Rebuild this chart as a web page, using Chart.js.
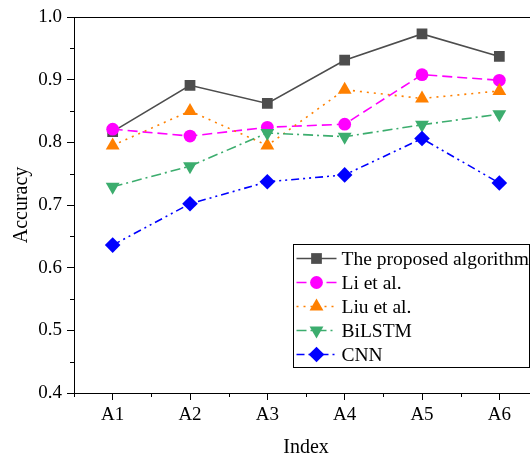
<!DOCTYPE html>
<html>
<head>
<meta charset="utf-8">
<script src="https://cdn.jsdelivr.net/npm/chart.js@4.4.0/dist/chart.umd.min.js"></script>
<style>
  html, body { margin: 0; padding: 0; background: #fff; overflow: hidden; }
  canvas { display: block; }
</style>
</head>
<body>
<canvas id="accuracy-chart"></canvas>
<script>
const categories = ["A1", "A2", "A3", "A4", "A5", "A6"];
const proposed = [0.817, 0.891, 0.862, 0.931, 0.973, 0.937];
const liEtAl = [0.821, 0.810, 0.824, 0.829, 0.908, 0.899];
const liuEtAl = [0.795, 0.850, 0.795, 0.884, 0.870, 0.882];
const biLSTM = [0.729, 0.762, 0.815, 0.809, 0.828, 0.845];
const cnn = [0.636, 0.702, 0.737, 0.748, 0.806, 0.735];
const seriesNames = ["The proposed algorithm", "Li et al.", "Liu et al.", "BiLSTM", "CNN"];
const yMin = 0.4;
const yMax = 1.0;

const serif = "'Liberation Serif', 'Times New Roman', serif";

const makeSet = (label, data, color, dash, style, radius, rot, order) => ({
  label: label,
  data: data,
  borderColor: color,
  backgroundColor: color,
  borderWidth: 1.6,
  borderDash: dash,
  pointStyle: style,
  pointRadius: radius,
  pointRotation: rot,
  pointBorderWidth: 0,
  pointBackgroundColor: color,
  tension: 0,
  order: order,
});

const datasets = [
  makeSet(seriesNames[0], proposed, "#4d4d4d", [], "rect", 7.6, 0, 4),
  makeSet(seriesNames[1], liEtAl, "#ff00ff", [10, 5], "circle", 6.4, 0, 3),
  makeSet(seriesNames[2], liuEtAl, "#ff8000", [2, 5], "triangle", 8, 0, 2),
  makeSet(seriesNames[3], biLSTM, "#3cad6e", [10, 4, 2, 4], "triangle", 8, 180, 1),
  makeSet(seriesNames[4], cnn, "#0000ff", [8, 4, 2, 4, 2, 4], "rectRot", 7.8, 0, 0),
];

// minor ticks, top frame line and the boxed legend
const framePlugin = {
  id: "frame",
  afterDraw(chart) {
    const ctx = chart.ctx;
    const area = chart.chartArea;
    const xs = chart.scales.x;
    const ys = chart.scales.y;
    ctx.save();
    ctx.strokeStyle = "#000";
    ctx.lineWidth = 1;

    // top frame
    ctx.beginPath();
    ctx.moveTo(area.left, area.top + 0.5);
    ctx.lineTo(chart.width, area.top + 0.5);
    ctx.stroke();

    // minor y ticks
    for (let v = yMin + 0.05; v < yMax; v += 0.1) {
      const y = Math.round(ys.getPixelForValue(v)) + 0.5;
      ctx.beginPath();
      ctx.moveTo(area.left, y);
      ctx.lineTo(area.left - 4, y);
      ctx.stroke();
    }
    // minor x ticks (between categories)
    const step = xs.getPixelForTick(1) - xs.getPixelForTick(0);
    for (let i = 0; i <= categories.length; i++) {
      const x = Math.round(xs.getPixelForTick(0) + (i - 0.5) * step) + 0.5;
      ctx.beginPath();
      ctx.moveTo(x, area.bottom);
      ctx.lineTo(x, area.bottom + 4);
      ctx.stroke();
    }

    // legend
    const bx = area.left + 219.5;
    const by = area.top + 227.5;
    const rowH = 24;
    const bw = 236;
    const bh = rowH * datasets.length + 3;
    ctx.fillStyle = "#fff";
    ctx.fillRect(bx, by, bw, bh);
    ctx.strokeRect(bx, by, bw, bh);
    ctx.font = "19.5px " + serif;
    ctx.textBaseline = "middle";
    datasets.forEach((ds, i) => {
      const cy = by + 14 + i * rowH;
      ctx.save();
      ctx.strokeStyle = ds.borderColor;
      ctx.lineWidth = 1.6;
      ctx.setLineDash(ds.borderDash);
      ctx.beginPath();
      ctx.moveTo(bx + 3, cy);
      ctx.lineTo(bx + 43, cy);
      ctx.stroke();
      ctx.restore();
      ctx.fillStyle = ds.pointBackgroundColor;
      ctx.strokeStyle = ds.pointBackgroundColor;
      Chart.helpers.drawPoint(ctx, {
        pointStyle: ds.pointStyle,
        radius: ds.pointRadius,
        rotation: ds.pointRotation,
        borderWidth: 0,
      }, bx + 23, cy);
      ctx.fillStyle = "#000";
      ctx.fillText(ds.label, bx + 48, cy + 1);
    });
    ctx.restore();
  },
};

const canvas = document.getElementById("accuracy-chart");
canvas.style.width = "560px";
canvas.style.height = "460px";

new Chart(canvas, {
  type: "line",
  data: { labels: categories, datasets: datasets },
  plugins: [framePlugin],
  options: {
    responsive: false,
    animation: false,
    devicePixelRatio: 1,
    layout: { padding: { left: 0, top: 17, right: 22, bottom: 0 } },
    plugins: {
      legend: { display: false },
      tooltip: { enabled: false },
    },
    scales: {
      x: {
        type: "category",
        offset: true,
        grid: {
          offset: false,
          drawOnChartArea: false,
          tickLength: 7,
          color: "#000",
        },
        border: { color: "#000", width: 1 },
        ticks: {
          color: "#000",
          font: { family: serif, size: 19 },
          padding: 4,
          maxRotation: 0,
        },
        title: {
          display: true,
          text: "Index",
          color: "#000",
          font: { family: serif, size: 20 },
          padding: { top: 0, bottom: 0 },
        },
        afterFit(scale) { scale.height = 67; },
      },
      y: {
        min: yMin,
        max: yMax,
        grid: {
          drawOnChartArea: false,
          tickLength: 7,
          color: "#000",
        },
        border: { color: "#000", width: 1 },
        ticks: {
          stepSize: 0.1,
          color: "#000",
          font: { family: serif, size: 19 },
          padding: 5,
          callback: (v) => v.toFixed(1),
        },
        title: {
          display: true,
          text: "Accuracy",
          color: "#000",
          font: { family: serif, size: 20 },
          padding: { top: 10, bottom: 0 },
        },
        afterFit(scale) { scale.width = 74; },
      },
    },
  },
});
</script>
</body>
</html>
